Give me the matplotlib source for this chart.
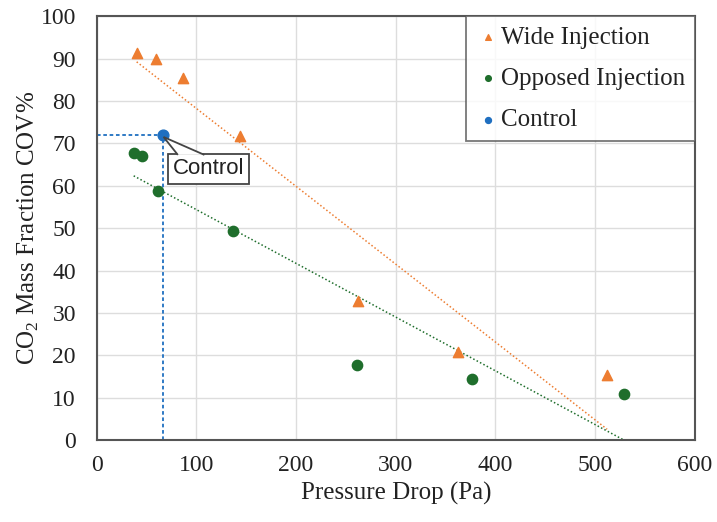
import numpy as np
import matplotlib
matplotlib.use("Agg")
import matplotlib.pyplot as plt
from matplotlib.patches import Polygon

# data
wide_x = [40, 59, 86, 144, 262, 362, 512]
wide_y = [91.2, 89.8, 85.4, 71.7, 32.8, 20.8, 15.3]
opp_x = [37, 45, 61, 137, 261, 376, 529]
opp_y = [67.8, 67.1, 58.8, 49.3, 17.7, 14.4, 10.8]
ctrl_x = [66]
ctrl_y = [72]

orange = "#ED7D31"
green = "#1F6E2C"
blue = "#1F6FC0"

plt.rcParams['font.family'] = ['Liberation Serif', 'DejaVu Serif']

fig = plt.figure(figsize=(7.17, 5.22), dpi=100)
ax = fig.add_axes([0.135, 0.157, 0.834, 0.812])

# linear trendlines, like Excel
for xs, ys, c in [(wide_x, wide_y, orange), (opp_x, opp_y, green)]:
    k, b = np.polyfit(xs, ys, 1)
    xx = np.array([min(xs), max(xs)])
    ax.plot(xx, k * xx + b, color=c, lw=1.1, ls=(0, (1, 1.5)), zorder=2)

# control guide lines
ax.plot([0, ctrl_x[0]], [ctrl_y[0], ctrl_y[0]], color=blue, lw=1.3, ls=(0, (2, 1.5)), zorder=2)
ax.plot([ctrl_x[0], ctrl_x[0]], [0, ctrl_y[0]], color=blue, lw=1.3, ls=(0, (2, 1.5)), zorder=2)

ax.scatter(wide_x, wide_y, marker="^", s=55, color=orange, label="Wide Injection", zorder=3)
ax.scatter(opp_x, opp_y, marker="o", s=55, color=green, label="Opposed Injection", zorder=3)
ax.scatter(ctrl_x, ctrl_y, marker="o", s=60, color=blue, label="Control", zorder=4)

ax.set_xlim(0, 600)
ax.set_ylim(0, 100)

# callout box
lab = ax.text(112, 64.0, "Control", fontsize=16, family=['Liberation Sans', 'DejaVu Sans'],
              color="#222222", ha="center", va="center", zorder=5,
              bbox=dict(boxstyle="square,pad=0.2", fc="white", ec="#444444", lw=1.3))
fig.canvas.draw()
bb = lab.get_bbox_patch().get_window_extent().transformed(ax.transData.inverted())
# pointer from box top edge to the control point
base_y = bb.y1 - 0.25
x0 = bb.x0 + 0.12 * bb.width
x1 = bb.x0 + 0.45 * bb.width
ax.add_patch(Polygon([[x1, base_y], [ctrl_x[0] + 1, ctrl_y[0] - 0.5], [x0, base_y]],
                     closed=False, fc="white", ec="#444444", lw=1.3, zorder=6))

ax.set_xticks(range(0, 601, 100))
ax.set_yticks(range(0, 101, 10))
ax.grid(True, color="#DDDDDD", lw=1.0)
ax.set_axisbelow(True)
for s in ax.spines.values():
    s.set_color("#555555")
    s.set_linewidth(1.5)
ax.tick_params(length=0, labelsize=17, colors="#222222")
ax.tick_params(axis="y", pad=15)
ax.tick_params(axis="x", pad=11)

ax.set_xlabel("Pressure Drop (Pa)", fontsize=18, color="#222222", labelpad=4)
ax.set_ylabel("CO$_{\\mathregular{2}}$ Mass Fraction COV%", fontsize=18, color="#222222", labelpad=0)

leg = ax.legend(loc="upper right", fontsize=18, frameon=True, fancybox=False,
                borderaxespad=0, handletextpad=0.0, handlelength=1.0,
                markerscale=0.55, borderpad=0.4, labelspacing=0.75)
leg.get_frame().set_edgecolor("#555555")
leg.get_frame().set_linewidth(1.3)
for t in leg.get_texts():
    t.set_color("#222222")

fig.savefig("out.png", dpi=100)
